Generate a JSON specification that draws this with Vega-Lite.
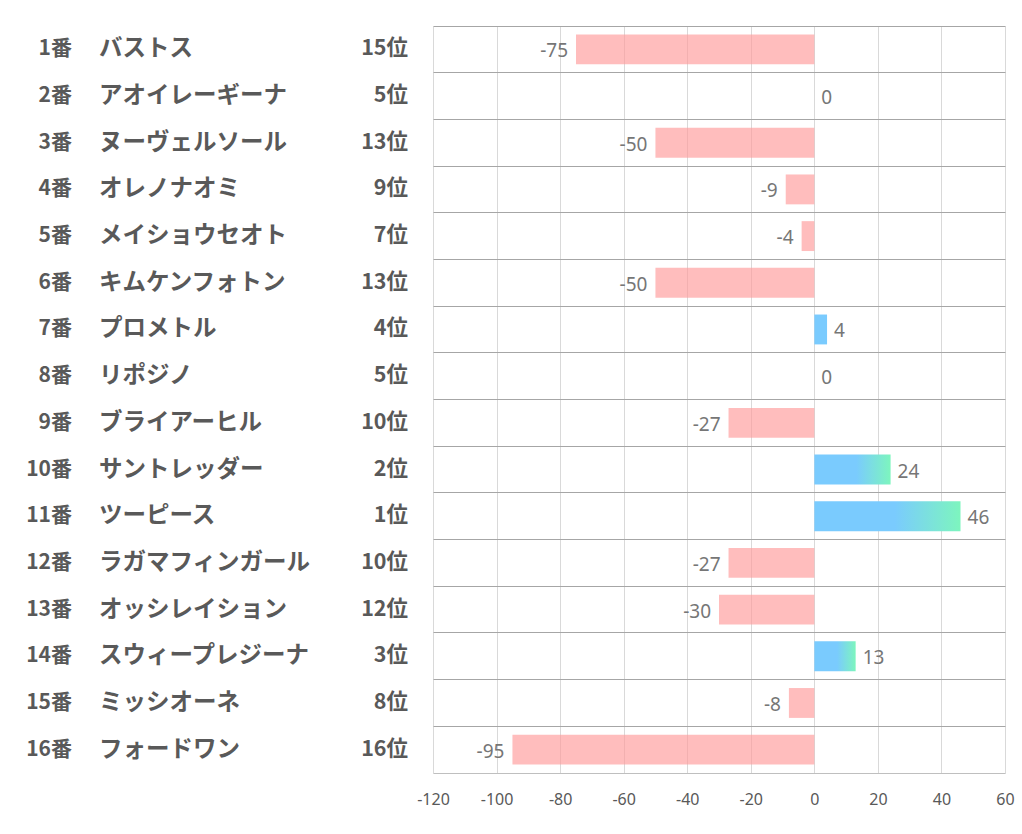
{
  "$schema": "https://vega.github.io/schema/vega-lite/v6.json",
  "padding": {"left": 0, "top": 26, "right": 0, "bottom": 0},
  "background": "white",
  "bounds": "flush",
  "config": {"view": {"stroke": null}, "font": "Noto Sans CJK JP"},
  "data": {"values": [
    {"no": 1, "uma": "1番", "name": "バストス", "rank": "15位", "value": -75},
    {"no": 2, "uma": "2番", "name": "アオイレーギーナ", "rank": "5位", "value": 0},
    {"no": 3, "uma": "3番", "name": "ヌーヴェルソール", "rank": "13位", "value": -50},
    {"no": 4, "uma": "4番", "name": "オレノナオミ", "rank": "9位", "value": -9},
    {"no": 5, "uma": "5番", "name": "メイショウセオト", "rank": "7位", "value": -4},
    {"no": 6, "uma": "6番", "name": "キムケンフォトン", "rank": "13位", "value": -50},
    {"no": 7, "uma": "7番", "name": "プロメトル", "rank": "4位", "value": 4},
    {"no": 8, "uma": "8番", "name": "リポジノ", "rank": "5位", "value": 0},
    {"no": 9, "uma": "9番", "name": "ブライアーヒル", "rank": "10位", "value": -27},
    {"no": 10, "uma": "10番", "name": "サントレッダー", "rank": "2位", "value": 24},
    {"no": 11, "uma": "11番", "name": "ツーピース", "rank": "1位", "value": 46},
    {"no": 12, "uma": "12番", "name": "ラガマフィンガール", "rank": "10位", "value": -27},
    {"no": 13, "uma": "13番", "name": "オッシレイション", "rank": "12位", "value": -30},
    {"no": 14, "uma": "14番", "name": "スウィープレジーナ", "rank": "3位", "value": 13},
    {"no": 15, "uma": "15番", "name": "ミッシオーネ", "rank": "8位", "value": -8},
    {"no": 16, "uma": "16番", "name": "フォードワン", "rank": "16位", "value": -95}
  ]},
  "spacing": 8,
  "hconcat": [
    {
      "width": 425,
      "height": 747,
      "encoding": {
        "y": {"field": "no", "type": "ordinal", "axis": null, "scale": {"paddingInner": 0, "paddingOuter": 0}}
      },
      "layer": [
        {
          "mark": {"type": "text", "align": "right", "baseline": "middle", "fontSize": 21, "fontWeight": "bold", "color": "#595959"},
          "encoding": {
            "x": {"datum": 72, "type": "quantitative", "scale": {"domain": [0, 425], "range": [0, 425], "nice": false, "zero": false}, "axis": null},
            "text": {"field": "uma"}
          }
        },
        {
          "mark": {"type": "text", "align": "left", "baseline": "middle", "fontSize": 23.5, "fontWeight": "bold", "color": "#595959"},
          "encoding": {
            "x": {"datum": 99, "type": "quantitative"},
            "text": {"field": "name"}
          }
        },
        {
          "mark": {"type": "text", "align": "right", "baseline": "middle", "fontSize": 21.5, "fontWeight": "bold", "color": "#595959"},
          "encoding": {
            "x": {"datum": 408, "type": "quantitative"},
            "text": {"field": "rank"}
          }
        }
      ]
    },
    {
      "width": 572,
      "height": 747,
      "encoding": {
        "y": {"field": "no", "type": "ordinal", "scale": {"paddingInner": 0, "paddingOuter": 0},
          "axis": {"grid": true, "bandPosition": 0, "gridColor": "#a6a6a6", "gridWidth": 1, "domain": false, "ticks": false, "labels": false, "title": null, "minExtent": 0, "maxExtent": 0}},
        "x": {"field": "value", "type": "quantitative", "scale": {"domain": [-120, 60], "nice": false, "zero": false},
          "axis": {"values": [-120, -100, -80, -60, -40, -20, 0, 20, 40, 60], "labelExpr": "'' + datum.value", "grid": true, "gridColor": "#d9d9d9", "domainColor": "#bfbfbf", "ticks": false, "labelFontSize": 16, "labelColor": "#595959", "labelPadding": 18, "labelFont": "Noto Sans", "labelOverlap": false, "labelBound": false, "labelFlush": false, "title": null}}
      },
      "layer": [
        {
          "transform": [{"filter": "datum.value < 0"}],
          "mark": {"type": "bar", "height": {"band": 0.64}, "color": "#ff9999", "opacity": 0.65}
        },
        {
          "transform": [{"filter": "datum.value > 0 && datum.value < 10"}],
          "mark": {"type": "bar", "height": {"band": 0.64}, "color": "#7acbfe"}
        },
        {
          "transform": [{"filter": "datum.value >= 10"}],
          "mark": {"type": "bar", "height": {"band": 0.64},
            "color": {"gradient": "linear", "x1": 0, "x2": 1, "y1": 0, "y2": 0,
              "stops": [{"offset": 0, "color": "#7acbfe"}, {"offset": 0.55, "color": "#7acbfe"}, {"offset": 1, "color": "#7df5be"}]}}
        },
        {
          "transform": [{"filter": "datum.value < 0"}],
          "mark": {"type": "text", "align": "right", "baseline": "middle", "dx": -8, "dy": 2, "fontSize": 19, "color": "#767676", "font": "Noto Sans"},
          "encoding": {"text": {"field": "value"}}
        },
        {
          "transform": [{"filter": "datum.value >= 0"}],
          "mark": {"type": "text", "align": "left", "baseline": "middle", "dx": 7, "dy": 2, "fontSize": 19, "color": "#767676", "font": "Noto Sans"},
          "encoding": {"text": {"field": "value"}}
        }
      ]
    }
  ]
}
